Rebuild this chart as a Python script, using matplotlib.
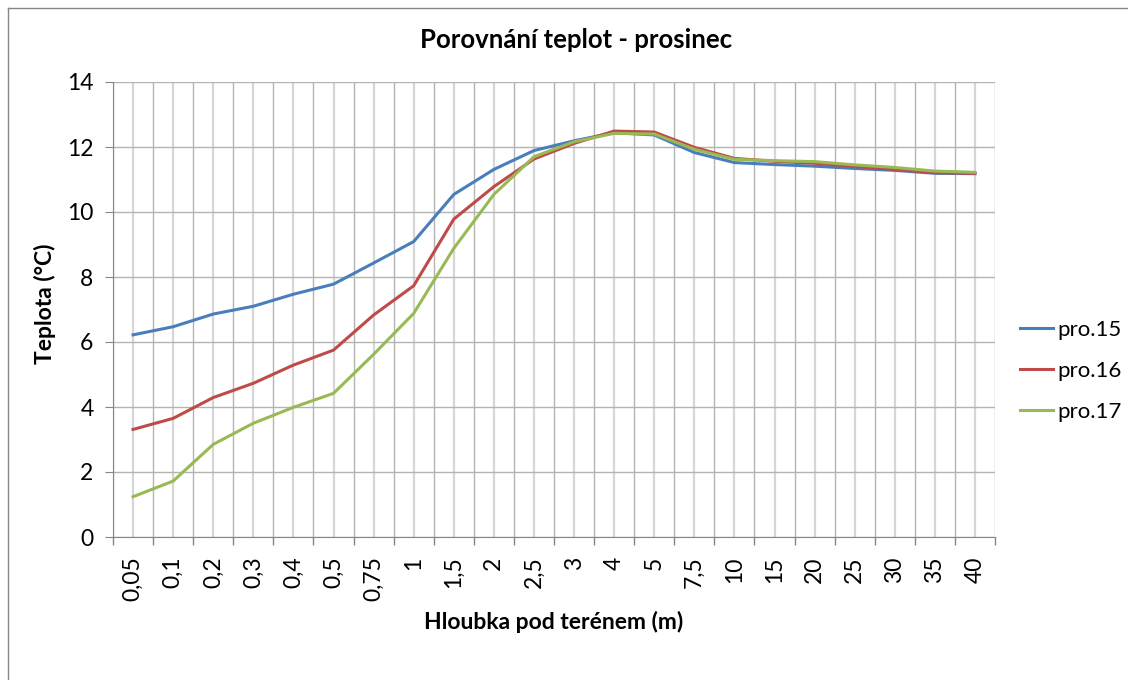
import numpy as np
import matplotlib
matplotlib.use("Agg")
import matplotlib.pyplot as plt
from matplotlib.lines import Line2D

plt.rcParams['font.family'] = ['Lato', 'DejaVu Sans']

# data
depths = ['0,05', '0,1', '0,2', '0,3', '0,4', '0,5', '0,75', '1', '1,5', '2', '2,5',
          '3', '4', '5', '7,5', '10', '15', '20', '25', '30', '35', '40']
pro15 = [6.22, 6.47, 6.86, 7.10, 7.47, 7.78, 8.43, 9.09, 10.54, 11.31, 11.89,
         12.19, 12.44, 12.37, 11.83, 11.52, 11.46, 11.41, 11.34, 11.28, 11.19, 11.18]
pro16 = [3.31, 3.65, 4.29, 4.73, 5.29, 5.75, 6.83, 7.73, 9.78, 10.78, 11.63,
         12.11, 12.49, 12.46, 11.99, 11.65, 11.56, 11.50, 11.40, 11.31, 11.21, 11.19]
pro17 = [1.24, 1.72, 2.85, 3.50, 3.99, 4.42, 5.62, 6.88, 8.88, 10.54, 11.70,
         12.16, 12.42, 12.40, 11.93, 11.62, 11.58, 11.55, 11.45, 11.37, 11.26, 11.22]
series_names = ['pro.15', 'pro.16', 'pro.17']
colors = ['#4A7EBB', '#BE4B48', '#98B954']

W, H = 1128, 680
fig = plt.figure(figsize=(W / 100, H / 100), dpi=100)
ax = fig.add_axes([113 / W, 1 - 537 / H, (995 - 113) / W, (537 - 82) / H])

x = np.arange(len(depths))
for vals, name, c in zip([pro15, pro16, pro17], series_names, colors):
    ax.plot(x, vals, color=c, lw=2.2, label=name, solid_joinstyle='round')

ax.set_xlim(-0.5, len(depths) - 0.5)
ax.set_ylim(0, 14)
ax.set_yticks(np.arange(0, 15, 2))

ax.set_xticks(x, depths, rotation=90)
ax.set_xticks(np.arange(-0.5, len(depths), 1), minor=True)
ax.tick_params(axis='x', which='major', length=0, pad=14, labelsize=16.5)
ax.tick_params(axis='x', which='minor', length=6, color='#868686', width=1)
ax.tick_params(axis='y', which='major', length=6, color='#868686', labelsize=16.5, pad=8)

ax.grid(True, axis='y', color='#b3b3b3', lw=1)
ax.grid(True, axis='x', which='minor', color='#b3b3b3', lw=1)
ax.grid(True, axis='x', which='major', color='#d6d6d6', lw=1.6)
ax.set_axisbelow(True)

for s in ['top', 'right']:
    ax.spines[s].set_visible(False)
for s in ['left', 'bottom']:
    ax.spines[s].set_color('#868686')

fig.text(576 / W, 1 - 40 / H, 'Porovnání teplot - prosinec', fontsize=18.5,
         fontweight='bold', ha='center', va='center')
fig.text(554 / W, 1 - 622 / H, 'Hloubka pod terénem (m)', fontsize=16.5,
         fontweight='bold', ha='center', va='center')
fig.text(45 / W, 1 - 304 / H, 'Teplota (°C)', fontsize=16.5, fontweight='bold',
         ha='center', va='center', rotation=90)

ax.legend(loc='center left', bbox_to_anchor=((1020 - 113) / 882, (537 - 371) / 455),
          frameon=False, fontsize=16, handlelength=1.5, handletextpad=0.2,
          labelspacing=0.95, borderpad=0, borderaxespad=0)

# chart border (left and top visible)
bc = '#868686'
fig.add_artist(Line2D([8 / W, 8 / W], [0, 1 - 8 / H], color=bc, lw=1, transform=fig.transFigure))
fig.add_artist(Line2D([8 / W, 1], [1 - 8 / H, 1 - 8 / H], color=bc, lw=1, transform=fig.transFigure))

fig.savefig('out.png', dpi=100)
